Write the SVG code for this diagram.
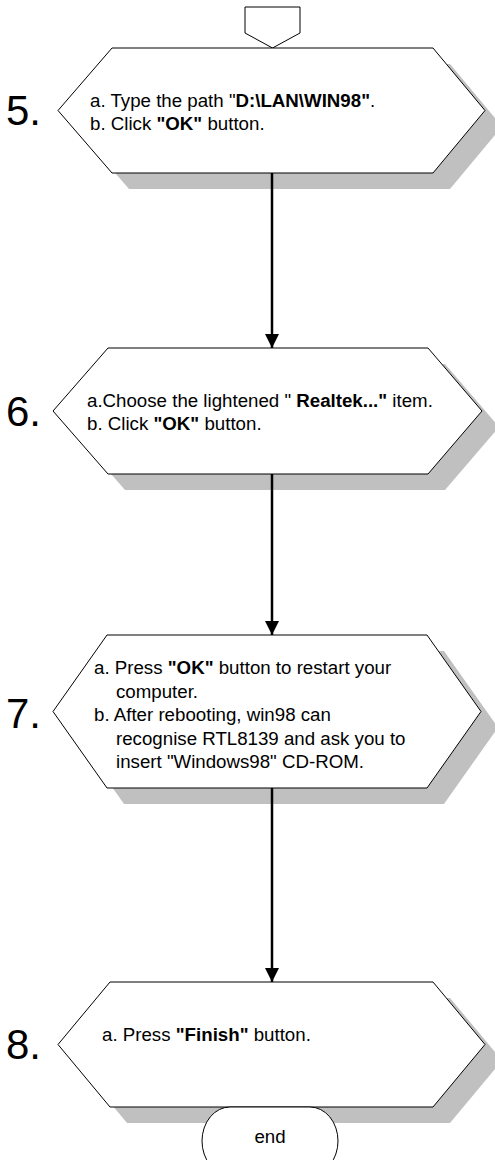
<svg xmlns="http://www.w3.org/2000/svg" width="495" height="1160" viewBox="0 0 495 1160">
<style>
.hex{fill:#fff;stroke:#000;stroke-width:1}
.sh{fill:#c0c0c0;stroke:none}
.t{font-family:"Liberation Sans",Arial,sans-serif;font-size:18.7px;fill:#000}
.b{font-weight:bold}
.num{font-family:"Liberation Sans",Arial,sans-serif;font-size:42px;fill:#000}
.conn{stroke:#000;stroke-width:2.5;fill:none}
</style>
<defs>
<marker id="ah" markerUnits="userSpaceOnUse" markerWidth="14" markerHeight="14" refX="14" refY="7" orient="auto" viewBox="0 0 14 14">
<path d="M0,0 L14,7 L0,14 z" fill="#000"/>
</marker>
</defs>
<rect width="495" height="1160" fill="#fff"/>
<g id="offpage">
<polygon class="hex" points="245,7 300,7 300,33 272.5,48 245,33"/>
</g>
<g id="step5">
<polygon class="sh" points="129,64 450,64 502,126.5 450,189 129,189 75,126.5"/>
<polygon class="hex" points="112,48 433,48 485,110.5 433,173 112,173 58,110.5"/>
<text class="num" x="6" y="125">5.</text>
<text class="t" x="90" y="107">a. Type the path "<tspan class="b">D:\LAN\WIN98"</tspan>.</text>
<text class="t" x="90" y="130">b. Click <tspan class="b">"OK"</tspan> button.</text>
</g>
<g id="step6">
<polygon class="sh" points="125,364 445,364 499,427 445,490 125,490 70,427"/>
<polygon class="hex" points="108,348 428,348 482,411 428,474 108,474 53,411"/>
<text class="num" x="6" y="426">6.</text>
<text class="t" x="87" y="407">a.Choose the lightened "<tspan class="b"> Realtek..."</tspan> item.</text>
<text class="t" x="87" y="430">b. Click <tspan class="b">"OK"</tspan> button.</text>
</g>
<g id="step7">
<polygon class="sh" points="124,651 444,651 498,727.5 444,804 124,804 70,727.5"/>
<polygon class="hex" points="107,635 427,635 481,711.5 427,788 107,788 53,711.5"/>
<text class="num" x="6" y="728">7.</text>
<text class="t" x="94" y="674">a. Press <tspan class="b">"OK"</tspan> button to restart your</text>
<text class="t" x="116" y="697.5">computer.</text>
<text class="t" x="94" y="721">b. After rebooting, win98 can</text>
<text class="t" x="116" y="744.5">recognise RTL8139 and ask you to</text>
<text class="t" x="116" y="768">insert "Windows98" CD-ROM.</text>
</g>
<g id="step8">
<polygon class="sh" points="127,998 450,998 502,1060.5 450,1123 127,1123 75,1060.5"/>
<polygon class="hex" points="110,982 433,982 485,1044.5 433,1107 110,1107 58,1044.5"/>
<text class="num" x="6" y="1059">8.</text>
<text class="t" x="102" y="1041">a. Press <tspan class="b">"Finish"</tspan> button.</text>
</g>
<g id="end">
<rect class="hex" x="202" y="1107" width="136" height="68" rx="28" ry="34"/>
<text class="t" x="270" y="1143" text-anchor="middle">end</text>
</g>
<g id="connectors">
<line class="conn" x1="272" y1="173" x2="272" y2="348" marker-end="url(#ah)"/>
<line class="conn" x1="272" y1="474" x2="272" y2="635" marker-end="url(#ah)"/>
<line class="conn" x1="272" y1="788" x2="272" y2="982" marker-end="url(#ah)"/>
</g>
</svg>
